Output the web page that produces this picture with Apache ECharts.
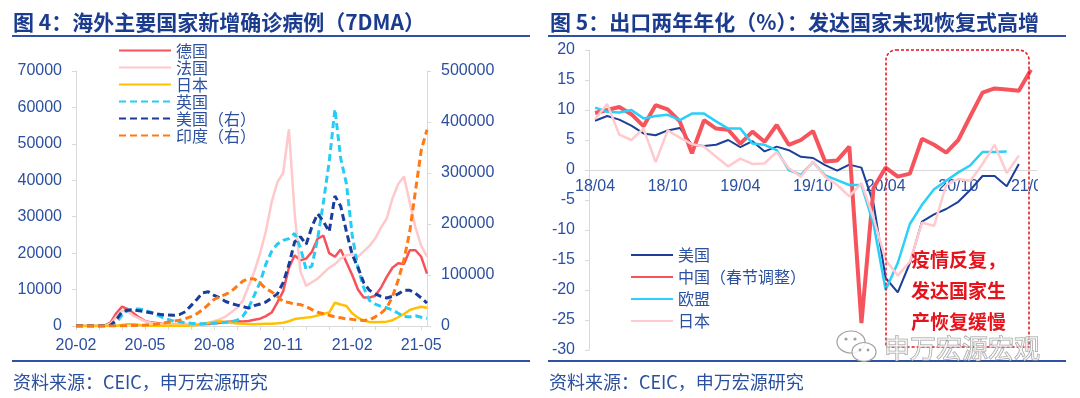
<!DOCTYPE html>
<html>
<head>
<meta charset="utf-8">
<title>chart</title>
<script src="https://cdn.jsdelivr.net/npm/echarts@6/dist/echarts.min.js"></script>
<style>
  html, body { margin: 0; padding: 0; background: #fff; }
  #main { width: 1080px; height: 398px; }
</style>
</head>
<body>
<div id="main"></div>
<script>
// ---- 图4 数据：每月 1/8/15/22 日取值 ----
var covidMonths = ['20-02','20-03','20-04','20-05','20-06','20-07','20-08','20-09','20-10','20-11','20-12','21-01','21-02','21-03','21-04','21-05'];
var covidDays = ['01','08','15','22'];
var covidDates = [];
covidMonths.forEach(function (m) {
    covidDays.forEach(function (d) { covidDates.push(m + '-' + d); });
});
covidDates = covidDates.slice(0, 62);   // 到 21-05-08

var germany = [0,0,0,10, 30,150,900,3500, 5300,4600,3500,2300, 1400,1000,800,600,
    450,400,400,550, 400,400,450,550, 700,900,1100,1250, 1300,1250,1400,1700,
    2000,2700,3700,6500, 9500,16000,19400,18000, 18500,20400,24000,24800,
    20000,19000,21000,17500, 14000,10000,7800,7800, 8300,10500,13500,16000,
    17200,17000,20800,20800, 19000,14400];
var france = [0,0,0,0, 20,100,600,2500, 4200,4000,2800,2000, 1300,900,700,500,
    400,400,450,450, 500,550,650,900, 1300,1900,2600,3800, 5000,7000,11000,15000,
    20000,26000,34000,39500, 42000,54000,31000,15000, 11000,12000,13000,14500,
    16000,17000,18500,19400, 19700,19000,20500,22000, 24000,27000,29500,35000,
    39000,41000,34000,27000, 22000,19000];
var japan = [0,0,0,0, 0,20,40,50, 300,450,450,300, 150,80,50,40,
    40,40,50,80, 150,300,600,850, 1100,1300,1100,900, 700,600,550,500,
    550,600,650,750, 900,1300,1900,2100, 2300,2500,2900,3300,
    3700,6400,5900,5500, 3500,2300,1500,1100, 1000,1100,1200,1600,
    2400,3300,4400,4900, 5300,5000];
var uk = [0,0,0,0, 10,50,200,1000, 3000,4300,4600,4700, 4300,3800,3100,2400,
    1800,1300,1100,900, 750,650,650,700, 750,850,1000,1200, 1600,2700,5000,8500,
    12000,17000,20500,22500, 23500,24000,25400,21500, 15500,16500,24000,34000,
    45000,59500,46000,39000, 25000,16000,10500,7000, 6000,5400,5000,4400,
    3500,2600,2500,2800, 2400,2100];
var usCases = [0,0,0,0, 20,100,1500,12000, 28000,31000,31500,30000, 28000,26000,24000,22000,
    21500,21000,22500,28000, 40000,52000,65000,67000, 60000,55000,48000,44000,
    41000,38000,35000,40000, 43000,47000,55000,63000, 85000,120000,165000,175000,
    160000,195000,220000,205000, 185000,255000,235000,185000, 140000,115000,85000,70000,
    63000,58000,55000,58000, 63000,70000,70000,64000, 55000,45000];
var india = [0,0,0,0, 0,0,50,100, 300,600,1000,1400, 1800,2800,3800,5500,
    7500,9500,11500,14500, 18500,24000,32000,42000, 52000,58000,62000,68000,
    78000,88000,93000,92000, 84000,73000,67000,58000, 48000,46000,43000,42000,
    38000,32000,27000,24000, 21000,18000,16000,14000, 13000,11500,11000,12000,
    18000,25000,35000,58000, 90000,130000,185000,265000, 345000,385000];

// ---- 图5 数据：出口两年年化（%） ----
var exportMonths = ['18/04','18/05','18/06','18/07','18/08','18/09','18/10','18/11','18/12',
    '19/01','19/02','19/03','19/04','19/05','19/06','19/07','19/08','19/09','19/10','19/11','19/12',
    '20/01','20/02','20/03','20/04','20/05','20/06','20/07','20/08','20/09','20/10','20/11','20/12',
    '21/01','21/02','21/03','21/04'];
var usExport = [8.2,9.0,8.4,7.4,6.1,5.8,6.6,7.0,4.2,4.0,4.2,5.0,3.8,4.8,3.1,3.9,3.3,2.2,2.0,0.8,
    -0.1,0.9,0.4,-5.6,-18.0,-20.4,-15.5,-8.6,-7.4,-6.5,-5.3,-3.3,-1.0,-1.0,-2.7,1.0,null];
var chinaExport = [9.5,10.0,10.5,9.3,7.3,10.8,10.1,8.1,2.8,8.3,6.9,6.7,4.4,6.4,4.7,7.5,4.2,5.0,6.5,1.4,
    1.6,3.9,-25.5,-3.0,0.4,-1.1,-0.6,5.2,4.2,2.9,5.0,9.0,12.9,13.6,13.4,13.2,16.7];
var euExport = [10.4,9.7,9.6,10.0,8.6,9.0,9.2,8.3,9.4,9.4,8.1,6.9,6.9,4.4,4.2,3.3,0.0,-0.8,1.3,-0.9,
    -1.7,-2.5,-2.5,-9.0,-20.0,-15.5,-9.0,-5.8,-3.2,-1.8,-0.4,0.8,3.0,3.0,3.1,null,null];
var japanExport = [8.5,11.0,5.9,5.0,6.9,1.3,6.6,5.4,4.3,3.9,2.2,0.6,1.9,1.0,1.1,3.0,0.3,-1.1,1.4,-1.1,
    -2.5,-4.4,-2.2,-8.0,-15.0,-17.6,-15.3,-8.8,-9.3,-2.5,-1.5,-1.8,1.0,4.2,-0.5,2.4,null];

var FONT = "'Liberation Sans', 'Noto Sans CJK SC', sans-serif";
var CJK = "'Noto Sans CJK SC', sans-serif";
var labelBlue = '#2B50A0';
var titleBlue = '#1B3C8E';
var axisGray = '#D9D9D9';

var myChart = echarts.init(document.getElementById('main'), null, {renderer: 'canvas'});

function valueAxis(grid, min, max, step, pos) {
    return {
        type: 'value', gridIndex: grid, position: pos,
        min: min, max: max, interval: step,
        splitLine: {show: false},
        axisLine: {show: true, lineStyle: {color: axisGray}},
        axisTick: {show: true, length: 4, lineStyle: {color: axisGray}},
        axisLabel: {color: labelBlue, fontSize: 16, fontFamily: FONT, margin: 14,
            formatter: function (v) { return String(v); }}
    };
}

function line(name, data, color, width, dash, xi, yi) {
    return {
        name: name, type: 'line', xAxisIndex: xi, yAxisIndex: yi,
        data: data, symbol: 'none', showSymbol: false, smooth: false,
        lineStyle: {color: color, width: width, type: dash || 'solid'},
        itemStyle: {color: color},
        animation: false
    };
}

var option = {
    backgroundColor: '#fff',
    animation: false,
    textStyle: {fontFamily: FONT},
    grid: [
        {left: 76, top: 71, width: 351, height: 255},
        {left: 589, top: 50, width: 448, height: 300}
    ],
    legend: [
        {
            orient: 'vertical', left: 118, top: 42, padding: 0,
            itemWidth: 52, itemHeight: 10, itemGap: 0,
            selectedMode: false,
            itemStyle: {opacity: 0},
            textStyle: {fontSize: 16, lineHeight: 17, color: labelBlue, fontFamily: CJK},
            data: ['德国', '法国', '日本', '英国', '美国（右）', '印度（右）']
        },
        {
            orient: 'vertical', left: 630, top: 244, padding: 0,
            itemWidth: 42, itemHeight: 10, itemGap: 0,
            selectedMode: false,
            itemStyle: {opacity: 0},
            formatter: function (n) { return n.trim(); },
            textStyle: {fontSize: 16, lineHeight: 22, color: labelBlue, fontFamily: CJK},
            data: ['美国', '中国（春节调整）', '欧盟', '日本 ']
        }
    ],
    xAxis: [
        {
            type: 'category', gridIndex: 0, data: covidDates, boundaryGap: false,
            axisLine: {lineStyle: {color: axisGray}},
            axisTick: {length: 4, interval: function (i) { return i % 4 === 0; }, lineStyle: {color: axisGray}},
            axisLabel: {
                interval: function (i) { return i % 12 === 0; },
                formatter: function (v) { return v.slice(0, 5); },
                color: labelBlue, fontSize: 16, margin: 12, fontFamily: FONT
            }
        },
        {
            // 坐标轴放在 0 值处：距底部 180px
            type: 'category', gridIndex: 1, data: exportMonths, boundaryGap: true,
            position: 'bottom', offset: -180,
            axisLine: {onZero: false, lineStyle: {color: axisGray}},
            axisTick: {length: 4, interval: 0, lineStyle: {color: axisGray}},
            axisLabel: {interval: 5, color: labelBlue, fontSize: 16, margin: 9, fontFamily: FONT}
        }
    ],
    yAxis: [
        valueAxis(0, 0, 70000, 10000, 'left'),
        valueAxis(0, 0, 500000, 100000, 'right'),
        valueAxis(1, -30, 20, 5, 'left')
    ],
    series: [
        line('德国', germany, '#F5525B', 2.5, null, 0, 0),
        line('法国', france, '#FFC8CB', 2.5, null, 0, 0),
        line('日本', japan, '#FFC000', 2.5, null, 0, 0),
        line('英国', uk, '#27CCF5', 3, [7, 4], 0, 0),
        line('美国（右）', usCases, '#1A3D9B', 3, [7, 4], 0, 1),
        line('印度（右）', india, '#FF7A14', 3, [7, 4], 0, 1),

        line('美国', usExport, '#1D3F97', 2, null, 1, 2),
        line('中国（春节调整）', chinaExport, '#F5545C', 4, null, 1, 2),
        line('欧盟', euExport, '#2AD0F7', 2.5, null, 1, 2),
        line('日本 ', japanExport, '#FFCACD', 2.5, null, 1, 2)
    ],
    graphic: [
        // 标题
        {type: 'text', z: 10, style: {x: 13, y: 22, text: '图 4：海外主要国家新增确诊病例（7DMA）',
            font: 'bold 21px ' + CJK, fill: titleBlue, verticalAlign: 'middle'}},
        {type: 'text', z: 10, style: {x: 550, y: 22, text: '图 5：出口两年年化（%）：发达国家未现恢复式高增',
            font: 'bold 21px ' + CJK, fill: titleBlue, verticalAlign: 'middle'}},
        // 分隔线
        {type: 'line', z: 10, shape: {x1: 12, y1: 36, x2: 530, y2: 36}, style: {stroke: '#2F52A2', lineWidth: 2}},
        {type: 'line', z: 10, shape: {x1: 548, y1: 36, x2: 1066, y2: 36}, style: {stroke: '#2F52A2', lineWidth: 2}},
        {type: 'line', z: 10, shape: {x1: 12, y1: 361, x2: 530, y2: 361}, style: {stroke: '#2F52A2', lineWidth: 2}},
        {type: 'line', z: 10, shape: {x1: 548, y1: 361, x2: 1066, y2: 361}, style: {stroke: '#2F52A2', lineWidth: 2}},
        // 资料来源
        {type: 'text', z: 10, style: {x: 13, y: 382, text: '资料来源：CEIC，申万宏源研究',
            font: '18px ' + CJK, fill: labelBlue, verticalAlign: 'middle'}},
        {type: 'text', z: 10, style: {x: 549, y: 382, text: '资料来源：CEIC，申万宏源研究',
            font: '18px ' + CJK, fill: labelBlue, verticalAlign: 'middle'}},
        // 红色虚线框
        {type: 'rect', z: 20, shape: {x: 886, y: 50, width: 143, height: 297, r: [10, 10, 0, 0]},
            style: {fill: 'none', stroke: '#E8101A', lineWidth: 1.5, lineDash: [3, 2]}},
        // 注释
        {type: 'text', z: 20, style: {x: 911, y: 260, text: '疫情反复，', font: 'bold 19px ' + CJK, fill: '#E5141C', verticalAlign: 'middle'}},
        {type: 'text', z: 20, style: {x: 911, y: 291, text: '发达国家生', font: 'bold 19px ' + CJK, fill: '#E5141C', verticalAlign: 'middle'}},
        {type: 'text', z: 20, style: {x: 911, y: 322, text: '产恢复缓慢', font: 'bold 19px ' + CJK, fill: '#E5141C', verticalAlign: 'middle'}},
        // 右端标签被裁切
        {type: 'rect', z: 15, shape: {x: 1038, y: 176, width: 42, height: 24}, style: {fill: '#fff'}},
        // 水印
        {type: 'ellipse', z: 25, shape: {cx: 851, cy: 342, rx: 14, ry: 11},
            style: {fill: 'rgba(255,255,255,0.7)', stroke: '#A0A0A0', lineWidth: 1.2}},
        {type: 'ellipse', z: 26, shape: {cx: 864, cy: 352, rx: 12, ry: 9.5},
            style: {fill: 'rgba(255,255,255,0.85)', stroke: '#A0A0A0', lineWidth: 1.2}},
        {type: 'circle', z: 27, shape: {cx: 846, cy: 339, r: 1.6}, style: {fill: '#A0A0A0'}},
        {type: 'circle', z: 27, shape: {cx: 855, cy: 339, r: 1.6}, style: {fill: '#A0A0A0'}},
        {type: 'circle', z: 27, shape: {cx: 860, cy: 350, r: 1.4}, style: {fill: '#A0A0A0'}},
        {type: 'circle', z: 27, shape: {cx: 868, cy: 350, r: 1.4}, style: {fill: '#A0A0A0'}},
        {type: 'text', z: 25, style: {x: 884, y: 348, text: '申万宏源宏观', font: '26px ' + CJK,
            fill: 'rgba(255,255,255,0.6)', stroke: '#9A9A9A', lineWidth: 1, verticalAlign: 'middle'}}
    ]
};

myChart.setOption(option);
</script>
</body>
</html>
